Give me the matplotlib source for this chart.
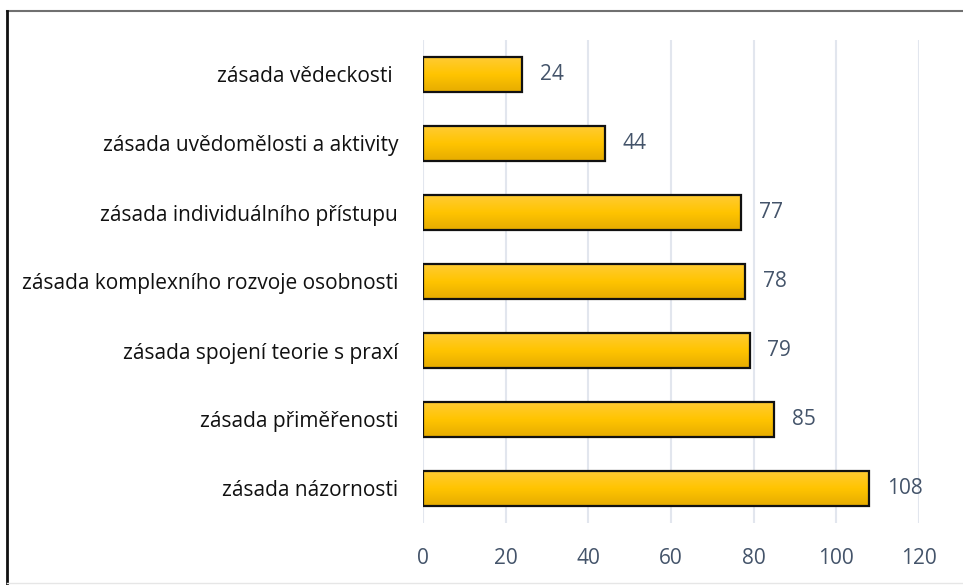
import matplotlib
matplotlib.use("Agg")
import matplotlib.pyplot as plt
import numpy as np
from matplotlib.colors import LinearSegmentedColormap
from matplotlib.lines import Line2D

categories = [
    "zásada názornosti",
    "zásada přiměřenosti",
    "zásada spojení teorie s praxí",
    "zásada komplexního rozvoje osobnosti",
    "zásada individuálního přístupu",
    "zásada uvědomělosti a aktivity",
    "zásada vědeckosti ",
]
values = [108, 85, 79, 78, 77, 44, 24]
xticks = [0, 20, 40, 60, 80, 100, 120]

plt.rcParams['font.family'] = ['Open Sans', 'DejaVu Sans']

W, H = 963, 585
fig = plt.figure(figsize=(W / 100, H / 100), dpi=100)
ax = fig.add_axes([423 / W, 1 - 523 / H, (919 - 423) / W, (523 - 40) / H])

y = np.arange(len(categories))
bh = 0.5
cmap = LinearSegmentedColormap.from_list("g", ["#E6AC00", "#FFC400", "#FFCB33"])
grad = np.linspace(0, 1, 64).reshape(-1, 1)
for yi, v in zip(y, values):
    ax.imshow(grad, extent=[0, v, yi - bh / 2, yi + bh / 2], origin="lower",
              cmap=cmap, aspect="auto", zorder=2, interpolation="bilinear")
    ax.barh(yi, v, height=bh, facecolor="none", edgecolor="#111111",
            linewidth=1.6, zorder=3)
    ax.text(v + 4.2, yi, str(v), va="center", ha="left", fontsize=15,
            color="#44546A", zorder=4)

ax.set_xlim(0, 120)
ax.set_ylim(-0.5, len(categories) - 0.5)
ax.set_xticks(xticks)
ax.set_yticks(y)
ax.set_yticklabels(categories, fontsize=15, color="#111111")
ax.tick_params(axis="y", length=0, pad=18)
ax.tick_params(axis="x", length=0, pad=18, labelsize=15, labelcolor="#44546A")
ax.grid(axis="x", color="#E2E6EE", linewidth=1.5, zorder=0)
ax.set_axisbelow(True)
for s in ax.spines.values():
    s.set_visible(False)

# figure border
fig.add_artist(Line2D([7 / W, 1], [1 - 11 / H, 1 - 11 / H], color="#707070",
                      linewidth=1.5, transform=fig.transFigure))
fig.add_artist(Line2D([7 / W, 7 / W], [1 - 11 / H, 0], color="#111111",
                      linewidth=2, transform=fig.transFigure))
fig.add_artist(Line2D([7 / W, 1], [1 - 583 / H, 1 - 583 / H], color="#E6E6E6",
                      linewidth=1, transform=fig.transFigure))

fig.savefig("out.png", dpi=100)
